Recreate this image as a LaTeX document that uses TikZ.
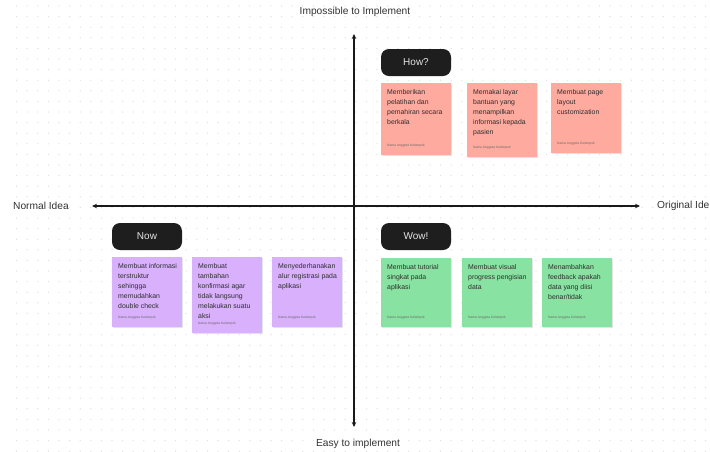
\documentclass[tikz,border=0pt]{standalone}
\usepackage{fontspec}
\setmainfont{Liberation Sans}
\usetikzlibrary{arrows.meta}
\definecolor{dotc}{HTML}{DCDCDC}
\definecolor{pinkc}{HTML}{FFAA9F}
\definecolor{purpc}{HTML}{D9B0FC}
\definecolor{greenc}{HTML}{88E2A1}
\definecolor{pillc}{HTML}{1E1E1E}
\definecolor{pilltext}{HTML}{E4E4E4}
\definecolor{textc}{HTML}{2E2E2E}
\definecolor{footc}{HTML}{6A6A6A}
\definecolor{shadc}{HTML}{E4E4E4}
\tikzset{
  axisline/.style={line width=1.1pt, draw=black!90, {Stealth[length=5pt,width=4.5pt]}-{Stealth[length=5pt,width=4.5pt]}},
  axlabel/.style={inner sep=0, text=black!80, font=\fontsize{10.2}{12}\selectfont},
  pill/.style={fill=pillc, rounded corners=8pt, minimum width=70pt, minimum height=27pt, inner sep=0, text=pilltext, font=\fontsize{10}{12}\selectfont},
  notebox/.style={anchor=north west, minimum width=70pt, inner sep=0},
  noteshadow/.style={fill=shadc},
  notetext/.style={anchor=north west, inner sep=0, align=left, text=textc, font=\fontsize{6.9}{10}\selectfont},
  notefoot/.style={anchor=south west, inner sep=0, text=footc, font=\fontsize{3.3}{4}\selectfont}
}
\newcommand\stickynote[6]{%
  \fill[noteshadow] (#2+0.8,#3+1.2) rectangle ++(70,#4);
  \node[notebox, fill=#5, minimum height=#4pt] (#1) at (#2,#3) {};
  \node[notetext] (#1t) at ([xshift=6pt,yshift=-6pt]#1.north west) {#6};
  \node[notefoot] (#1f) at ([xshift=6pt,yshift=8pt]#1.south west) {Nama Anggota Kelompok};
}
\begin{document}
\begin{tikzpicture}[x=1pt,y=-1pt]
\useasboundingbox (0,0) rectangle (710,451);
\fill[white] (0,0) rectangle (710,451);
\foreach \i in {0,...,65} {
  \foreach \j in {0,...,42} {
    \fill[dotc] ({16.6+10.6*\i},{6+10.6*\j}) circle (0.65);
  }
}
% axes
\coordinate (vt) at (354,34);
\coordinate (vb) at (354,427);
\coordinate (hl) at (92,206);
\coordinate (hr) at (640,206);
\draw[axisline] (vb) -- (vt);
\draw[axisline] (hl) -- (hr);
\node[axlabel] (ltop) at (355,12) {Impossible to Implement};
\node[axlabel] (lbot) at (358,444) {Easy to implement};
\node[axlabel, anchor=west] (lleft) at (13,206) {Normal Idea};
\node[axlabel, anchor=west] (lright) at (657,206) {Original Ide};
% pills
\node[pill] (how) at (416,62.5) {How?};
\node[pill] (now) at (147,236.5) {Now};
\node[pill] (wow) at (416,236.5) {Wow!};
% How notes
\stickynote{h1}{381}{83}{72}{pinkc}{Memberikan\\pelatihan dan\\pemahiran secara\\berkala}
\stickynote{h2}{467}{83}{74}{pinkc}{Memakai layar\\bantuan yang\\menampilkan\\informasi kepada\\pasien}
\stickynote{h3}{551}{83}{70}{pinkc}{Membuat page\\layout\\customization}
% Now notes
\stickynote{n1}{112}{257}{70}{purpc}{Membuat informasi\\terstruktur\\sehingga\\memudahkan\\double check}
\stickynote{n2}{192}{257}{76}{purpc}{Membuat\\tambahan\\konfirmasi agar\\tidak langsung\\melakukan suatu\\aksi}
\stickynote{n3}{272}{257}{70}{purpc}{Menyederhanakan\\alur registrasi pada\\aplikasi}
% Wow notes
\stickynote{w1}{381}{258}{69}{greenc}{Membuat tutorial\\singkat pada\\aplikasi}
\stickynote{w2}{462}{258}{69}{greenc}{Membuat visual\\progress pengisian\\data}
\stickynote{w3}{542}{258}{69}{greenc}{Menambahkan\\feedback apakah\\data yang diisi\\benar/tidak}
\end{tikzpicture}
\end{document}
